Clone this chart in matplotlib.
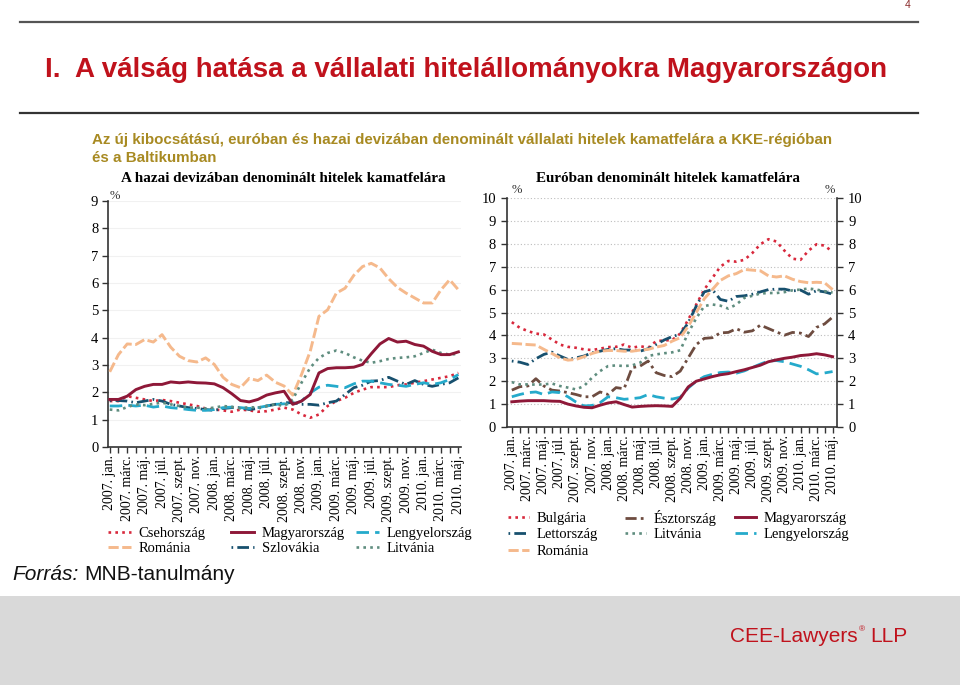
import matplotlib
matplotlib.use("Agg")
import matplotlib.pyplot as plt
from matplotlib.lines import Line2D
from matplotlib.patches import Rectangle

# ---------------- data ----------------
months = list(range(41))  # 2007 jan .. 2010 máj
month_names = ["jan.", "febr.", "márc.", "ápr.", "máj.", "jún.",
               "júl.", "aug.", "szept.", "okt.", "nov.", "dec."]
tick_labels = [f"{2007 + m // 12}. {month_names[m % 12]}" for m in months]

# Left chart: loans in domestic currency
left_csehorszag = [1.68, 1.68, 1.86, 1.80, 1.74, 1.68, 1.72, 1.68, 1.62, 1.56, 1.50,
                   1.41, 1.37, 1.34, 1.29, 1.37, 1.34, 1.29, 1.31, 1.37, 1.44,
                   1.37, 1.19, 1.07, 1.19, 1.50, 1.68, 1.80, 1.98, 2.10, 2.19,
                   2.19, 2.19, 2.26, 2.29, 2.35, 2.41, 2.47, 2.53, 2.59, 2.71]
left_magyarorszag = [1.74, 1.74, 1.86, 2.10, 2.22, 2.29, 2.29, 2.38, 2.35, 2.38, 2.35,
                     2.34, 2.31, 2.17, 1.95, 1.70, 1.65, 1.74, 1.90, 1.98, 2.04,
                     1.56, 1.68, 1.92, 2.71, 2.87, 2.90, 2.90, 2.92, 3.02, 3.41,
                     3.77, 3.97, 3.84, 3.87, 3.75, 3.69, 3.50, 3.38, 3.38, 3.48]
left_lengyelorszag = [1.50, 1.50, 1.53, 1.50, 1.53, 1.46, 1.50, 1.44, 1.41, 1.37, 1.34,
                      1.34, 1.37, 1.44, 1.46, 1.44, 1.41, 1.44, 1.50, 1.56, 1.58,
                      1.56, 1.68, 1.98, 2.19, 2.26, 2.22, 2.17, 2.31, 2.41, 2.41,
                      2.35, 2.29, 2.26, 2.22, 2.29, 2.35, 2.29, 2.35, 2.47, 2.65]
left_romania = [2.75, 3.38, 3.77, 3.75, 3.93, 3.84, 4.11, 3.65, 3.32, 3.16, 3.11,
                3.26, 3.02, 2.55, 2.29, 2.17, 2.51, 2.43, 2.63, 2.37, 2.23,
                1.90, 2.65, 3.50, 4.78, 5.02, 5.63, 5.81, 6.28, 6.60, 6.72,
                6.55, 6.16, 5.84, 5.63, 5.45, 5.27, 5.27, 5.75, 6.12, 5.75]
left_szlovakia = [1.70, 1.70, 1.68, 1.62, 1.68, 1.74, 1.68, 1.56, 1.50, 1.44, 1.41,
                  1.37, 1.34, 1.41, 1.44, 1.44, 1.37, 1.41, 1.50, 1.56, 1.62,
                  1.62, 1.56, 1.56, 1.53, 1.62, 1.68, 1.92, 2.17, 2.26, 2.41,
                  2.43, 2.55, 2.41, 2.29, 2.43, 2.29, 2.22, 2.29, 2.35, 2.53]
left_litvania = [1.37, 1.34, 1.46, 1.56, 1.53, 1.58, 1.62, 1.56, 1.50, 1.44, 1.44,
                 1.41, 1.44, 1.50, 1.47, 1.41, 1.46, 1.44, 1.50, 1.56, 1.50,
                 1.74, 2.35, 2.90, 3.26, 3.44, 3.53, 3.44, 3.28, 3.16, 3.08,
                 3.14, 3.22, 3.26, 3.28, 3.32, 3.44, 3.56, 3.44, 3.38, 3.41]

# Right chart: loans in euro
right_bulgaria = [4.58, 4.33, 4.19, 4.08, 4.04, 3.82, 3.60, 3.50, 3.46, 3.39, 3.36,
                  3.42, 3.49, 3.50, 3.60, 3.46, 3.53, 3.46, 3.75, 3.78, 3.80,
                  4.08, 4.69, 5.35, 6.00, 6.50, 7.00, 7.25, 7.22, 7.30, 7.60,
                  7.98, 8.20, 8.10, 7.70, 7.35, 7.30, 7.70, 7.98, 7.92, 7.65]
right_esztorszag = [1.61, 1.76, 1.79, 2.11, 1.79, 1.61, 1.57, 1.50, 1.42, 1.32, 1.32,
                    1.53, 1.42, 1.72, 1.67, 2.59, 2.66, 2.88, 2.37, 2.25, 2.20,
                    2.44, 3.02, 3.60, 3.87, 3.90, 4.11, 4.13, 4.29, 4.14, 4.20,
                    4.45, 4.30, 4.15, 4.01, 4.13, 4.10, 3.95, 4.35, 4.50, 4.80]
right_magyarorszag = [1.10, 1.13, 1.15, 1.15, 1.15, 1.13, 1.12, 1.00, 0.92, 0.86, 0.84,
                      0.95, 1.05, 1.10, 0.98, 0.87, 0.90, 0.92, 0.93, 0.92, 0.90,
                      1.25, 1.75, 2.00, 2.10, 2.20, 2.28, 2.33, 2.42, 2.50, 2.60,
                      2.70, 2.85, 2.93, 3.00, 3.05, 3.12, 3.15, 3.20, 3.15, 3.07]
right_lettorszag = [2.88, 2.83, 2.73, 2.98, 3.17, 3.27, 3.10, 2.95, 3.02, 3.10, 3.24,
                    3.31, 3.39, 3.42, 3.36, 3.36, 3.31, 3.42, 3.60, 3.80, 3.95,
                    4.05, 4.55, 5.28, 5.90, 6.00, 5.57, 5.49, 5.70, 5.73, 5.80,
                    5.90, 6.00, 6.02, 6.02, 5.94, 5.98, 5.80, 5.95, 5.90, 5.80]
right_litvania = [1.96, 1.86, 1.86, 1.85, 1.86, 1.90, 1.79, 1.72, 1.64, 1.79, 2.15,
                  2.44, 2.66, 2.69, 2.66, 2.69, 2.81, 3.10, 3.17, 3.22, 3.26,
                  3.35, 4.11, 4.75, 5.28, 5.35, 5.30, 5.17, 5.35, 5.64, 5.73,
                  5.83, 5.85, 5.85, 5.89, 5.97, 6.00, 6.05, 6.00, 5.93, 5.87]
right_lengyelorszag = [1.32, 1.42, 1.50, 1.53, 1.42, 1.53, 1.50, 1.32, 1.09, 0.92, 0.94,
                       1.06, 1.32, 1.28, 1.21, 1.24, 1.28, 1.42, 1.32, 1.26, 1.22,
                       1.30, 1.70, 2.00, 2.20, 2.30, 2.38, 2.40, 2.35, 2.45, 2.60,
                       2.75, 2.88, 2.90, 2.85, 2.75, 2.65, 2.50, 2.32, 2.36, 2.42]
right_romania = [3.65, 3.63, 3.60, 3.58, 3.39, 3.21, 3.02, 2.92, 2.95, 3.07, 3.21,
                 3.31, 3.34, 3.34, 3.31, 3.31, 3.36, 3.39, 3.49, 3.56, 3.75,
                 3.90, 4.40, 5.00, 5.60, 6.00, 6.40, 6.60, 6.70, 6.88, 6.85,
                 6.82, 6.60, 6.55, 6.60, 6.45, 6.35, 6.30, 6.32, 6.30, 6.00]

left_yticks = list(range(10))
right_yticks = list(range(11))

# ---------------- styles ----------------
C_RED = "#d8283c"
C_HU = "#8e1838"
C_PL = "#25aacb"
C_RO = "#f5b98c"
C_SK = "#17506e"
C_LT = "#5f8d7f"
C_EE = "#6e4c40"

ST = {
    "red": dict(color=C_RED, lw=1.9, ls=(0, (1.0, 1.6))),
    "hu": dict(color=C_HU, lw=2.1, ls="-"),
    "pl": dict(color=C_PL, lw=2.0, ls=(0, (4.5, 2.2))),
    "ro": dict(color=C_RO, lw=2.1, ls=(0, (3.5, 1.2))),
    "sk": dict(color=C_SK, lw=2.0, ls=(0, (0.6, 1.5, 4.2, 1.5))),
    "lt": dict(color=C_LT, lw=1.9, ls=(0, (1.0, 1.6))),
    "ee": dict(color=C_EE, lw=2.0, ls=(0, (4.0, 1.5, 1.0, 1.5))),
}

SANS = "Liberation Sans"
SERIF = "Liberation Serif"
RED = "#c0121c"

plt.rcParams["font.family"] = [SERIF, "DejaVu Serif"]

W, H = 960, 685
fig = plt.figure(figsize=(9.6, 6.85), dpi=100)
renderer = fig.canvas.get_renderer()


def fx(px):
    return px / W


def fy(py):
    return 1 - py / H


def right_edge(txt):
    bb = txt.get_window_extent(renderer)
    return bb.x1  # pixels from left


# ---------------- slide decorations ----------------
fig.add_artist(Rectangle((0, 0), 1, fy(596), transform=fig.transFigure,
                         facecolor="#d9d9d9", edgecolor="none", zorder=0))
fig.add_artist(Line2D([fx(20), fx(918)], [fy(22), fy(22)], transform=fig.transFigure,
                      color="#555555", lw=1.6))
fig.add_artist(Line2D([fx(20), fx(918)], [fy(113), fy(113)], transform=fig.transFigure,
                      color="#333333", lw=1.6))
fig.text(fx(905), fy(5), "4", fontsize=7.5, color="#8a2a2a", family=SANS,
         ha="left", va="center")
fig.text(fx(45), fy(70), "I.  A válság hatása a vállalati hitelállományokra Magyarországon",
         fontsize=20.0, fontweight="bold", color=RED, family=SANS,
         ha="left", va="center")

fig.text(fx(92), fy(140), "Az új kibocsátású, euróban és hazai devizában denominált vállalati hitelek kamatfelára a KKE-régióban",
         fontsize=10.9, fontweight="bold", color="#a88a22", family=SANS,
         ha="left", va="center")
fig.text(fx(92), fy(158), "és a Baltikumban",
         fontsize=10.9, fontweight="bold", color="#a88a22", family=SANS,
         ha="left", va="center")

t1 = fig.text(fx(12), fy(575), "Forrás:", fontsize=15, style="italic", family=SANS,
              ha="left", va="center", color="#111111")
x_after = right_edge(t1) + 6
fig.text(x_after / W, fy(575), "MNB-tanulmány",
         fontsize=15, family=SANS, ha="left", va="center", color="#111111")

c1 = fig.text(fx(730), fy(636), "CEE-Lawyers", fontsize=15, family=SANS, color=RED,
              ha="left", va="center")
x_r = right_edge(c1) + 1
c2 = fig.text(x_r / W, fy(630), "®", fontsize=6, family=SANS, color=RED,
              ha="left", va="center")
x_l = right_edge(c2) + 5
fig.text(x_l / W, fy(636), "LLP", fontsize=15, family=SANS, color=RED,
         ha="left", va="center")

# ---------------- left chart ----------------
axL = fig.add_axes([fx(108), fy(447), fx(461) - fx(108), fy(201) - fy(447)])
axL.plot(months, left_csehorszag, **ST["red"], label="Csehország", zorder=3)
axL.plot(months, left_romania, **ST["ro"], label="Románia", zorder=3)
axL.plot(months, left_magyarorszag, **ST["hu"], label="Magyarország", zorder=4)
axL.plot(months, left_szlovakia, **ST["sk"], label="Szlovákia", zorder=3)
axL.plot(months, left_lengyelorszag, **ST["pl"], label="Lengyelország", zorder=3)
axL.plot(months, left_litvania, **ST["lt"], label="Litvánia", zorder=3)
axL.set_xlim(-0.2, 40.3)
axL.set_ylim(0, 9)
axL.set_yticks(left_yticks)
for v in left_yticks[1:]:
    axL.axhline(v, color="#f1f1f1", lw=0.8, zorder=1)
for s in ("top", "right"):
    axL.spines[s].set_visible(False)
for s in ("left", "bottom"):
    axL.spines[s].set_color("#333333")
    axL.spines[s].set_linewidth(1.2)
axL.set_xticks(months)
axL.set_xticklabels([t if i % 2 == 0 else "" for i, t in enumerate(tick_labels)],
                    rotation=90, fontsize=10)
axL.tick_params(axis="x", length=4, width=1, color="#333333", pad=2)
axL.tick_params(axis="y", length=4, width=1, color="#333333", labelsize=10.5, pad=3)
fig.text(fx(110), fy(196), "%", fontsize=9, ha="left", va="center", color="#333333")
fig.text(fx(283), fy(179), "A hazai devizában denominált hitelek kamatfelára",
         fontsize=10.9, fontweight="bold", ha="center", va="center")

# ---------------- right chart ----------------
axR = fig.add_axes([fx(507), fy(427), fx(837) - fx(507), fy(198) - fy(427)])
axR.plot(months, right_bulgaria, **ST["red"], label="Bulgária", zorder=3)
axR.plot(months, right_lettorszag, **ST["sk"], label="Lettország", zorder=3)
axR.plot(months, right_romania, **ST["ro"], label="Románia", zorder=3)
axR.plot(months, right_esztorszag, **ST["ee"], label="Észtország", zorder=3)
axR.plot(months, right_litvania, **ST["lt"], label="Litvánia", zorder=3)
axR.plot(months, right_magyarorszag, **ST["hu"], label="Magyarország", zorder=4)
axR.plot(months, right_lengyelorszag, **ST["pl"], label="Lengyelország", zorder=3)
axR.set_xlim(-0.6, 40.55)
axR.set_ylim(0, 10)
axR.set_yticks(right_yticks)
axR.grid(axis="y", color="#bdbdbd", lw=0.8, ls=(0, (1, 2)), zorder=1)
axR.spines["top"].set_visible(False)
for s in ("left", "right", "bottom"):
    axR.spines[s].set_color("#333333")
    axR.spines[s].set_linewidth(1.2)
axR.set_xticks(months)
axR.set_xticklabels([t if i % 2 == 0 else "" for i, t in enumerate(tick_labels)],
                    rotation=90, fontsize=10)
axR.tick_params(axis="x", length=4, width=1, color="#333333", pad=2)
axR.tick_params(axis="y", length=4, width=1, color="#333333", labelsize=10.5, pad=4,
                left=True, right=True, labelleft=True, labelright=True)
fig.text(fx(512), fy(190), "%", fontsize=9, ha="left", va="center", color="#333333")
fig.text(fx(830), fy(190), "%", fontsize=9, ha="center", va="center", color="#333333")
fig.text(fx(668), fy(179), "Euróban denominált hitelek kamatfelára",
         fontsize=10.9, fontweight="bold", ha="center", va="center")

# ---------------- legends (one small legend per entry, exact placement) ----------------
def entry_legend(ax, label, x_px, y_px, hlen, pad):
    handles, labs = ax.get_legend_handles_labels()
    h = handles[labs.index(label)]
    fig.legend([h], [label], loc="center left",
               bbox_to_anchor=(fx(x_px), fy(y_px)), frameon=False,
               fontsize=10.5, handlelength=hlen, handletextpad=pad,
               borderaxespad=0, borderpad=0)


left_rows = [533, 548]
left_cols = [108, 231, 356]
left_grid = [["Csehország", "Magyarország", "Lengyelország"],
             ["Románia", "Szlovákia", "Litvánia"]]
for r, row in enumerate(left_grid):
    for c, lab in enumerate(row):
        entry_legend(axL, lab, left_cols[c], left_rows[r], 1.55, 0.55)

right_rows = [518, 534, 551]
right_cols = [508, 625, 735]
right_grid = [["Bulgária", "Észtország", "Magyarország"],
              ["Lettország", "Litvánia", "Lengyelország"],
              ["Románia", None, None]]
for r, row in enumerate(right_grid):
    for c, lab in enumerate(row):
        if lab:
            entry_legend(axR, lab, right_cols[c], right_rows[r], 1.45, 0.5)

fig.savefig("out.png", dpi=100)
